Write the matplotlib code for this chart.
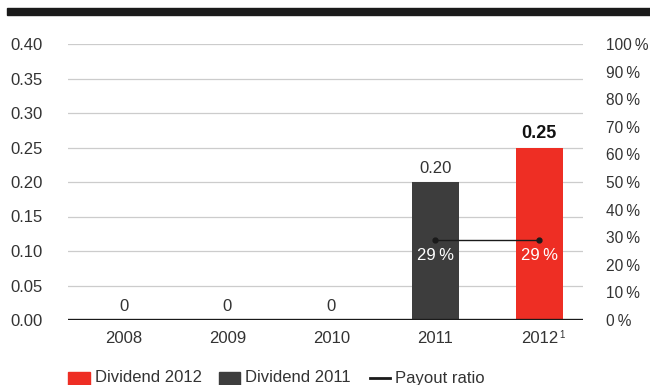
import matplotlib
matplotlib.use("Agg")
import matplotlib.pyplot as plt
from matplotlib.patches import Rectangle
from matplotlib.lines import Line2D

plt.rcParams['font.family'] = ['Liberation Sans', 'DejaVu Sans']

years = ["2008", "2009", "2010", "2011", "2012"]
dividends = [0.0, 0.0, 0.0, 0.20, 0.25]
value_labels = ["0", "0", "0", "0.20", "0.25"]
payout = [None, None, None, 29, 29]
left_ticks = [0.00, 0.05, 0.10, 0.15, 0.20, 0.25, 0.30, 0.35, 0.40]
right_ticks = [0, 10, 20, 30, 40, 50, 60, 70, 80, 90, 100]

RED = "#EE2E24"
DARK = "#3D3D3D"
TXT = "#333333"
W, H = 650, 385
FS = 12

fig = plt.figure(figsize=(6.5, 3.85), dpi=100)
ax = fig.add_axes([68 / W, 1 - 320 / H, (583 - 68) / W, (320 - 44) / H])
ax2 = ax.twinx()

x = list(range(len(years)))
colors = [DARK] * (len(years) - 1) + [RED]
ax.bar(x, dividends, width=0.45, color=colors, zorder=3)

ax.set_xlim(-0.534, 4.42)
ax.set_ylim(0, 0.40)
ax2.set_ylim(0, 100)

ax.set_yticks(left_ticks)
ax.set_yticklabels([f"{t:.2f}" for t in left_ticks])
ax2.set_yticks(right_ticks)
ax2.set_yticklabels([f"{t}\u2009%" for t in right_ticks])

for t in left_ticks[1:]:
    ax.axhline(t, color="#cccccc", lw=0.9, zorder=1)
ax.axhline(0, color="#1a1a1a", lw=2.4, zorder=4)

for a in (ax, ax2):
    for s in a.spines.values():
        s.set_visible(False)
ax.tick_params(axis='y', length=0, pad=41.8, labelsize=FS, labelcolor=TXT)
for lab in ax.get_yticklabels():
    lab.set_horizontalalignment('left')
ax2.tick_params(axis='y', length=0, pad=16.5, labelsize=11.2, labelcolor=TXT)
ax.set_xticks(x)
ax.set_xticklabels(years)
ax.tick_params(axis='x', length=0, pad=8, labelsize=FS, labelcolor=TXT)
ax.annotate("1", xy=(4, 0), xytext=(14.5, -11), textcoords="offset points",
            fontsize=7, color=TXT, ha='left', va='center', annotation_clip=False)

for i, (v, lab) in enumerate(zip(dividends, value_labels)):
    bold = (i == len(years) - 1)
    ax.annotate(lab, xy=(i, v), xytext=(0, 4), textcoords="offset points",
                ha='center', va='bottom', fontsize=FS if not bold else 13,
                fontweight='bold' if bold else 'normal', color=TXT if not bold else "#111111",
                zorder=5)

px = [i for i, p in enumerate(payout) if p is not None]
py = [p for p in payout if p is not None]
ax2.plot(px, py, color="#1a1a1a", lw=1.0, marker='o', ms=3.5, zorder=6)
for i, p in zip(px, py):
    ax2.annotate(f"{p}\u2009%", xy=(i, p), xytext=(0, -6), textcoords="offset points",
                 ha='center', va='top', fontsize=FS, color="white", zorder=7)

# top black band
fig.patches.append(Rectangle((7 / W, 1 - 15 / H), (W - 7) / W, 7 / H,
                             transform=fig.transFigure, color="#1a1a1a", zorder=0))

# legend
ly = 1 - 385 / H
fig.patches.append(Rectangle((68 / W, ly), 22 / W, 13 / H, transform=fig.transFigure, color=RED))
fig.text(95 / W, 1 - 378 / H, "Dividend 2012", fontsize=FS, color=TXT, va='center')
fig.patches.append(Rectangle((219 / W, ly), 21 / W, 13 / H, transform=fig.transFigure, color=DARK))
fig.text(245 / W, 1 - 378 / H, "Dividend 2011", fontsize=FS, color=TXT, va='center')
fig.lines.append(Line2D([370 / W, 390 / W], [1 - 378 / H, 1 - 378 / H],
                        transform=fig.transFigure, color="#1a1a1a", lw=2))
fig.text(395 / W, 1 - 378 / H, "Payout ratio", fontsize=FS, color=TXT, va='center')

fig.savefig("out.png", dpi=100)
